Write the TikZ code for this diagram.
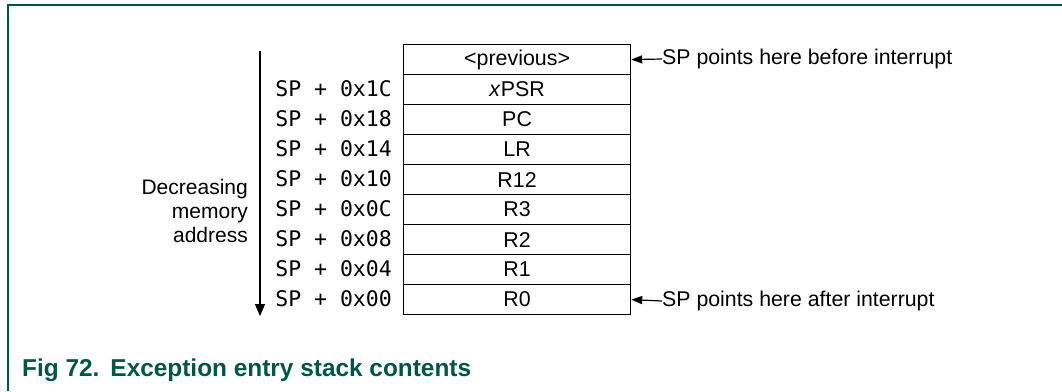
\documentclass[tikz,border=0pt]{standalone}
\usepackage{fontspec}
\setmainfont{Liberation Sans}
\setmonofont{DejaVu Sans Mono}
\usetikzlibrary{arrows.meta}
\definecolor{nxpgreen}{RGB}{0,85,70}
\begin{document}
\begin{tikzpicture}[x=1pt,y=-1pt,
  cell/.style={draw,line width=1.2pt,minimum width=227pt,minimum height=30pt,inner sep=0pt,anchor=north west,font=\fontsize{21.4}{24}\selectfont},
  addr/.style={anchor=east,inner sep=0pt,font=\ttfamily\fontsize{21.5}{24}\selectfont},
  note/.style={anchor=west,inner sep=0pt,font=\fontsize{21.3}{24}\selectfont},
  ptr/.style={line width=1.2pt,-{Triangle[length=11pt,width=8pt]}}]
\useasboundingbox (0,0) rectangle (1062,391);
\draw[nxpgreen,line width=2pt] (1062,5) -- (8,5) -- (8,391);
\foreach \t [count=\i from 0] in {{<previous>},{\textit{x}PSR},PC,LR,R12,R3,R2,R1,R0}
  \node[cell] (r\i) at (403,{44+30*\i}) {\t};
\foreach \a [count=\i from 1] in {1C,18,14,10,0C,08,04,00}
  \node[addr] (a\i) at (392,{59+30*\i}) {SP + 0x\a};
\coordinate (vtop) at (260,51);
\coordinate (vbot) at (260,316);
\draw[line width=1.2pt,-{Triangle[length=12pt,width=10pt]}] (vtop) -- (vbot);
\node[anchor=east,align=right,inner sep=0pt,font=\fontsize{21}{24}\selectfont] (dec) at (248,211) {Decreasing\\memory\\address};
\node[note] (before) at (662,59) {SP points here before interrupt};
\node[note] (after) at (662,301) {SP points here after interrupt};
\draw[ptr] (before.west) -- (r0.east);
\draw[ptr] (after.west) -- (r8.east);
\node[anchor=west,inner sep=0pt,text=nxpgreen,font=\bfseries\fontsize{24.4}{28}\selectfont] (cap) at (22,370) {Fig 72.\hspace{11pt}Exception entry stack contents};
\end{tikzpicture}
\end{document}
